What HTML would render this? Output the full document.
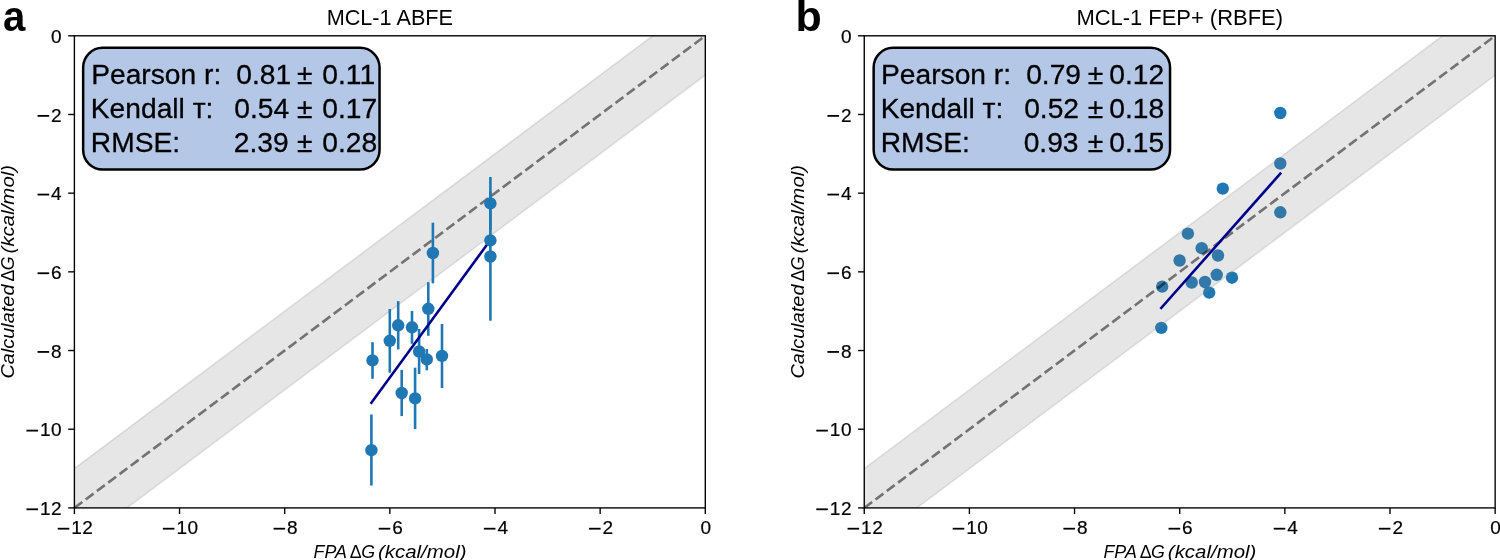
<!DOCTYPE html>
<html><head><meta charset="utf-8"><title>MCL-1 ABFE vs FEP+</title>
<style>
html,body{margin:0;padding:0;background:#fff;}
body{width:1500px;height:560px;overflow:hidden;}
svg{display:block;will-change:transform;transform:translateZ(0);font-family:"Liberation Sans",sans-serif;}
text{fill:#000;}
</style></head><body>
<svg width="1500" height="560" viewBox="0 0 1500 560">
<rect width="1500" height="560" fill="#fff"/>
<g>
<clipPath id="c0"><rect x="74.4" y="35.8" width="630.9" height="472.09999999999997"/></clipPath>
<g clip-path="url(#c0)">
<path d="M21.82500000000001,507.8999999999999 L757.8749999999999,-42.883333333333326 L757.8749999999999,35.8 L21.82500000000001,586.5833333333333 Z" fill="#808080" fill-opacity="0.2" stroke="#808080" stroke-opacity="0.2" stroke-width="1.7"/>
<line x1="74.4" y1="507.8999999999999" x2="705.3" y2="35.8" stroke="#000" stroke-opacity="0.5" stroke-width="2.65" stroke-dasharray="9.83 4.25"/>
<line x1="371.4" y1="414.5" x2="371.4" y2="485.5" stroke="#1f77b4" stroke-width="2.6"/>
<line x1="372.5" y1="342.2" x2="372.5" y2="378.8" stroke="#1f77b4" stroke-width="2.6"/>
<line x1="389.8" y1="309.0" x2="389.8" y2="372.7" stroke="#1f77b4" stroke-width="2.6"/>
<line x1="398.2" y1="301.2" x2="398.2" y2="349.4" stroke="#1f77b4" stroke-width="2.6"/>
<line x1="401.7" y1="369.9" x2="401.7" y2="416.1" stroke="#1f77b4" stroke-width="2.6"/>
<line x1="412.0" y1="310.9" x2="412.0" y2="343.8" stroke="#1f77b4" stroke-width="2.6"/>
<line x1="415.1" y1="367.7" x2="415.1" y2="429.1" stroke="#1f77b4" stroke-width="2.6"/>
<line x1="419.1" y1="329.0" x2="419.1" y2="374.0" stroke="#1f77b4" stroke-width="2.6"/>
<line x1="426.8" y1="349.0" x2="426.8" y2="370.3" stroke="#1f77b4" stroke-width="2.6"/>
<line x1="428.3" y1="282.2" x2="428.3" y2="335.8" stroke="#1f77b4" stroke-width="2.6"/>
<line x1="432.9" y1="222.7" x2="432.9" y2="283.3" stroke="#1f77b4" stroke-width="2.6"/>
<line x1="442.0" y1="324.0" x2="442.0" y2="388.0" stroke="#1f77b4" stroke-width="2.6"/>
<line x1="490.4" y1="176.9" x2="490.4" y2="229.9" stroke="#1f77b4" stroke-width="2.6"/>
<line x1="490.4" y1="236.0" x2="490.4" y2="244.0" stroke="#1f77b4" stroke-width="2.6"/>
<line x1="490.4" y1="191.7" x2="490.4" y2="320.7" stroke="#1f77b4" stroke-width="2.6"/>
<line x1="371.4" y1="402.7" x2="490.4" y2="240.0" stroke="#00008b" stroke-width="2.6" stroke-linecap="square"/>
<circle cx="371.4" cy="450.2" r="6.2" fill="#1f77b4"/>
<circle cx="372.5" cy="360.4" r="6.2" fill="#1f77b4"/>
<circle cx="389.8" cy="340.8" r="6.2" fill="#1f77b4"/>
<circle cx="398.2" cy="325.3" r="6.2" fill="#1f77b4"/>
<circle cx="401.7" cy="393.0" r="6.2" fill="#1f77b4"/>
<circle cx="412.0" cy="327.3" r="6.2" fill="#1f77b4"/>
<circle cx="415.1" cy="398.4" r="6.2" fill="#1f77b4"/>
<circle cx="419.1" cy="351.5" r="6.2" fill="#1f77b4"/>
<circle cx="426.8" cy="359.4" r="6.2" fill="#1f77b4"/>
<circle cx="428.3" cy="308.8" r="6.2" fill="#1f77b4"/>
<circle cx="432.9" cy="253.0" r="6.2" fill="#1f77b4"/>
<circle cx="442.0" cy="355.9" r="6.2" fill="#1f77b4"/>
<circle cx="490.4" cy="203.4" r="6.2" fill="#1f77b4"/>
<circle cx="490.4" cy="240.4" r="6.2" fill="#1f77b4"/>
<circle cx="490.4" cy="256.5" r="6.2" fill="#1f77b4"/>
</g>
<rect x="74.4" y="35.8" width="630.9" height="472.09999999999997" fill="none" stroke="#000" stroke-width="1.37"/>
<line x1="74.4" y1="507.9" x2="74.4" y2="514.1" stroke="#000" stroke-width="1.37"/>
<line x1="68.2" y1="507.8999999999999" x2="74.4" y2="507.8999999999999" stroke="#000" stroke-width="1.37"/>
<rect x="57.70" y="527.80" width="11.6" height="1.8" fill="#000"/><text x="76.54" y="534.4" font-size="19.0" text-anchor="middle" stroke="#000" stroke-width="0.2">1</text><text x="87.64" y="534.4" font-size="19.0" text-anchor="middle" stroke="#000" stroke-width="0.2">2</text>
<rect x="26.46" y="508.40" width="11.6" height="1.8" fill="#000"/><text x="45.30" y="514.9999999999999" font-size="19.0" text-anchor="middle" stroke="#000" stroke-width="0.2">1</text><text x="56.40" y="514.9999999999999" font-size="19.0" text-anchor="middle" stroke="#000" stroke-width="0.2">2</text>
<line x1="179.55" y1="507.9" x2="179.55" y2="514.1" stroke="#000" stroke-width="1.37"/>
<line x1="68.2" y1="429.21666666666664" x2="74.4" y2="429.21666666666664" stroke="#000" stroke-width="1.37"/>
<rect x="162.85" y="527.80" width="11.6" height="1.8" fill="#000"/><text x="181.69" y="534.4" font-size="19.0" text-anchor="middle" stroke="#000" stroke-width="0.2">1</text><text x="192.79" y="534.4" font-size="19.0" text-anchor="middle" stroke="#000" stroke-width="0.2">0</text>
<rect x="26.46" y="429.72" width="11.6" height="1.8" fill="#000"/><text x="45.30" y="436.31666666666666" font-size="19.0" text-anchor="middle" stroke="#000" stroke-width="0.2">1</text><text x="56.40" y="436.31666666666666" font-size="19.0" text-anchor="middle" stroke="#000" stroke-width="0.2">0</text>
<line x1="284.7" y1="507.9" x2="284.7" y2="514.1" stroke="#000" stroke-width="1.37"/>
<line x1="68.2" y1="350.5333333333333" x2="74.4" y2="350.5333333333333" stroke="#000" stroke-width="1.37"/>
<rect x="273.55" y="527.80" width="11.6" height="1.8" fill="#000"/><text x="292.39" y="534.4" font-size="19.0" text-anchor="middle" stroke="#000" stroke-width="0.2">8</text>
<rect x="37.56" y="351.03" width="11.6" height="1.8" fill="#000"/><text x="56.40" y="357.6333333333333" font-size="19.0" text-anchor="middle" stroke="#000" stroke-width="0.2">8</text>
<line x1="389.85" y1="507.9" x2="389.85" y2="514.1" stroke="#000" stroke-width="1.37"/>
<line x1="68.2" y1="271.84999999999997" x2="74.4" y2="271.84999999999997" stroke="#000" stroke-width="1.37"/>
<rect x="378.70" y="527.80" width="11.6" height="1.8" fill="#000"/><text x="397.54" y="534.4" font-size="19.0" text-anchor="middle" stroke="#000" stroke-width="0.2">6</text>
<rect x="37.56" y="272.35" width="11.6" height="1.8" fill="#000"/><text x="56.40" y="278.95" font-size="19.0" text-anchor="middle" stroke="#000" stroke-width="0.2">6</text>
<line x1="495.0" y1="507.9" x2="495.0" y2="514.1" stroke="#000" stroke-width="1.37"/>
<line x1="68.2" y1="193.16666666666663" x2="74.4" y2="193.16666666666663" stroke="#000" stroke-width="1.37"/>
<rect x="483.85" y="527.80" width="11.6" height="1.8" fill="#000"/><text x="502.69" y="534.4" font-size="19.0" text-anchor="middle" stroke="#000" stroke-width="0.2">4</text>
<rect x="37.56" y="193.67" width="11.6" height="1.8" fill="#000"/><text x="56.40" y="200.26666666666662" font-size="19.0" text-anchor="middle" stroke="#000" stroke-width="0.2">4</text>
<line x1="600.15" y1="507.9" x2="600.15" y2="514.1" stroke="#000" stroke-width="1.37"/>
<line x1="68.2" y1="114.48333333333332" x2="74.4" y2="114.48333333333332" stroke="#000" stroke-width="1.37"/>
<rect x="589.00" y="527.80" width="11.6" height="1.8" fill="#000"/><text x="607.84" y="534.4" font-size="19.0" text-anchor="middle" stroke="#000" stroke-width="0.2">2</text>
<rect x="37.56" y="114.98" width="11.6" height="1.8" fill="#000"/><text x="56.40" y="121.58333333333331" font-size="19.0" text-anchor="middle" stroke="#000" stroke-width="0.2">2</text>
<line x1="705.3" y1="507.9" x2="705.3" y2="514.1" stroke="#000" stroke-width="1.37"/>
<line x1="68.2" y1="35.8" x2="74.4" y2="35.8" stroke="#000" stroke-width="1.37"/>
<text x="705.70" y="534.4" font-size="19.0" text-anchor="middle" stroke="#000" stroke-width="0.2">0</text>
<text x="56.40" y="42.9" font-size="19.0" text-anchor="middle" stroke="#000" stroke-width="0.2">0</text>
<text x="326.65" y="25.3" font-size="21.3" text-anchor="start" font-weight="normal" textLength="126.4" lengthAdjust="spacingAndGlyphs">MCL-1 ABFE</text>
<g transform="translate(314.5,558.4)"><text x="-0.9" y="0" font-size="17.8" text-anchor="start" font-weight="normal" font-style="italic" textLength="33.4" lengthAdjust="spacingAndGlyphs">FPA</text><text x="35.300000000000004" y="0" font-size="17.8" text-anchor="start" font-weight="normal">Δ</text><text x="46.7" y="0" font-size="17.8" text-anchor="start" font-weight="normal" font-style="italic">G</text><text x="63.50000000000001" y="0" font-size="17.8" text-anchor="start" font-weight="normal" font-style="italic" textLength="88.5" lengthAdjust="spacingAndGlyphs">(kcal/mol)</text></g>
<g transform="translate(14.0,377.6) rotate(-90)"><text x="-0.9" y="0" font-size="17.8" text-anchor="start" font-weight="normal" font-style="italic" textLength="94.0" lengthAdjust="spacingAndGlyphs">Calculated</text><text x="96.0" y="0" font-size="17.8" text-anchor="start" font-weight="normal">Δ</text><text x="107.39999999999999" y="0" font-size="17.8" text-anchor="start" font-weight="normal" font-style="italic">G</text><text x="124.19999999999999" y="0" font-size="17.8" text-anchor="start" font-weight="normal" font-style="italic" textLength="88.5" lengthAdjust="spacingAndGlyphs">(kcal/mol)</text></g>
<rect x="83.15" y="47.8" width="296.4" height="121.7" rx="19.5" ry="19.5" fill="#b4c7e7" stroke="#000" stroke-width="2.5"/>
<text x="91.2" y="83.8" font-size="28.2" text-anchor="start" font-weight="normal" stroke="#000" stroke-width="0.3">Pearson r:</text>
<text x="236.3" y="83.8" font-size="28.2" text-anchor="start" font-weight="normal" stroke="#000" stroke-width="0.3">0.81</text>
<text x="297.1" y="83.8" font-size="28.2" text-anchor="start" font-weight="normal" stroke="#000" stroke-width="0.3">±</text>
<text x="322.3" y="83.8" font-size="28.2" text-anchor="start" font-weight="normal" stroke="#000" stroke-width="0.3">0.11</text>
<text x="90.8" y="117.7" font-size="28.2" text-anchor="start" font-weight="normal" stroke="#000" stroke-width="0.3">Kendall т:</text>
<text x="234.3" y="117.7" font-size="28.2" text-anchor="start" font-weight="normal" stroke="#000" stroke-width="0.3">0.54</text>
<text x="297.1" y="117.7" font-size="28.2" text-anchor="start" font-weight="normal" stroke="#000" stroke-width="0.3">±</text>
<text x="322.3" y="117.7" font-size="28.2" text-anchor="start" font-weight="normal" stroke="#000" stroke-width="0.3">0.17</text>
<text x="90.8" y="152.0" font-size="28.2" text-anchor="start" font-weight="normal" stroke="#000" stroke-width="0.3">RMSE:</text>
<text x="233.8" y="152.0" font-size="28.2" text-anchor="start" font-weight="normal" stroke="#000" stroke-width="0.3">2.39</text>
<text x="297.1" y="152.0" font-size="28.2" text-anchor="start" font-weight="normal" stroke="#000" stroke-width="0.3">±</text>
<text x="322.3" y="152.0" font-size="28.2" text-anchor="start" font-weight="normal" stroke="#000" stroke-width="0.3">0.28</text>
</g>
<g>
<clipPath id="c789"><rect x="864.25" y="35.8" width="630.9000000000001" height="472.09999999999997"/></clipPath>
<g clip-path="url(#c789)">
<circle cx="1161.3" cy="327.9" r="6.2" fill="#1f77b4"/>
<circle cx="1162.2" cy="286.6" r="6.2" fill="#1f77b4"/>
<circle cx="1179.6" cy="260.5" r="6.2" fill="#1f77b4"/>
<circle cx="1187.9" cy="233.6" r="6.2" fill="#1f77b4"/>
<circle cx="1191.7" cy="282.5" r="6.2" fill="#1f77b4"/>
<circle cx="1201.7" cy="248.2" r="6.2" fill="#1f77b4"/>
<circle cx="1205.0" cy="282.0" r="6.2" fill="#1f77b4"/>
<circle cx="1209.2" cy="292.6" r="6.2" fill="#1f77b4"/>
<circle cx="1216.7" cy="274.8" r="6.2" fill="#1f77b4"/>
<circle cx="1218.0" cy="255.5" r="6.2" fill="#1f77b4"/>
<circle cx="1222.8" cy="188.6" r="6.2" fill="#1f77b4"/>
<circle cx="1232.0" cy="277.7" r="6.2" fill="#1f77b4"/>
<circle cx="1280.3" cy="113.0" r="6.2" fill="#1f77b4"/>
<circle cx="1280.3" cy="163.5" r="6.2" fill="#1f77b4"/>
<circle cx="1280.3" cy="212.3" r="6.2" fill="#1f77b4"/>
<path d="M811.675,507.8999999999999 L1547.725,-42.883333333333326 L1547.725,35.8 L811.675,586.5833333333333 Z" fill="#808080" fill-opacity="0.2" stroke="#808080" stroke-opacity="0.2" stroke-width="1.7"/>
<line x1="864.25" y1="507.8999999999999" x2="1495.15" y2="35.8" stroke="#000" stroke-opacity="0.5" stroke-width="2.65" stroke-dasharray="9.83 4.25"/>
<line x1="1161.2" y1="308.0" x2="1280.3" y2="173.6" stroke="#00008b" stroke-width="2.6" stroke-linecap="square"/>
</g>
<rect x="864.25" y="35.8" width="630.9000000000001" height="472.09999999999997" fill="none" stroke="#000" stroke-width="1.37"/>
<line x1="864.25" y1="507.9" x2="864.25" y2="514.1" stroke="#000" stroke-width="1.37"/>
<line x1="858.05" y1="507.8999999999999" x2="864.25" y2="507.8999999999999" stroke="#000" stroke-width="1.37"/>
<rect x="847.55" y="527.80" width="11.6" height="1.8" fill="#000"/><text x="866.39" y="534.4" font-size="19.0" text-anchor="middle" stroke="#000" stroke-width="0.2">1</text><text x="877.49" y="534.4" font-size="19.0" text-anchor="middle" stroke="#000" stroke-width="0.2">2</text>
<rect x="816.31" y="508.40" width="11.6" height="1.8" fill="#000"/><text x="835.15" y="514.9999999999999" font-size="19.0" text-anchor="middle" stroke="#000" stroke-width="0.2">1</text><text x="846.25" y="514.9999999999999" font-size="19.0" text-anchor="middle" stroke="#000" stroke-width="0.2">2</text>
<line x1="969.4" y1="507.9" x2="969.4" y2="514.1" stroke="#000" stroke-width="1.37"/>
<line x1="858.05" y1="429.21666666666664" x2="864.25" y2="429.21666666666664" stroke="#000" stroke-width="1.37"/>
<rect x="952.70" y="527.80" width="11.6" height="1.8" fill="#000"/><text x="971.54" y="534.4" font-size="19.0" text-anchor="middle" stroke="#000" stroke-width="0.2">1</text><text x="982.64" y="534.4" font-size="19.0" text-anchor="middle" stroke="#000" stroke-width="0.2">0</text>
<rect x="816.31" y="429.72" width="11.6" height="1.8" fill="#000"/><text x="835.15" y="436.31666666666666" font-size="19.0" text-anchor="middle" stroke="#000" stroke-width="0.2">1</text><text x="846.25" y="436.31666666666666" font-size="19.0" text-anchor="middle" stroke="#000" stroke-width="0.2">0</text>
<line x1="1074.55" y1="507.9" x2="1074.55" y2="514.1" stroke="#000" stroke-width="1.37"/>
<line x1="858.05" y1="350.5333333333333" x2="864.25" y2="350.5333333333333" stroke="#000" stroke-width="1.37"/>
<rect x="1063.40" y="527.80" width="11.6" height="1.8" fill="#000"/><text x="1082.24" y="534.4" font-size="19.0" text-anchor="middle" stroke="#000" stroke-width="0.2">8</text>
<rect x="827.41" y="351.03" width="11.6" height="1.8" fill="#000"/><text x="846.25" y="357.6333333333333" font-size="19.0" text-anchor="middle" stroke="#000" stroke-width="0.2">8</text>
<line x1="1179.7" y1="507.9" x2="1179.7" y2="514.1" stroke="#000" stroke-width="1.37"/>
<line x1="858.05" y1="271.84999999999997" x2="864.25" y2="271.84999999999997" stroke="#000" stroke-width="1.37"/>
<rect x="1168.55" y="527.80" width="11.6" height="1.8" fill="#000"/><text x="1187.39" y="534.4" font-size="19.0" text-anchor="middle" stroke="#000" stroke-width="0.2">6</text>
<rect x="827.41" y="272.35" width="11.6" height="1.8" fill="#000"/><text x="846.25" y="278.95" font-size="19.0" text-anchor="middle" stroke="#000" stroke-width="0.2">6</text>
<line x1="1284.85" y1="507.9" x2="1284.85" y2="514.1" stroke="#000" stroke-width="1.37"/>
<line x1="858.05" y1="193.16666666666663" x2="864.25" y2="193.16666666666663" stroke="#000" stroke-width="1.37"/>
<rect x="1273.70" y="527.80" width="11.6" height="1.8" fill="#000"/><text x="1292.54" y="534.4" font-size="19.0" text-anchor="middle" stroke="#000" stroke-width="0.2">4</text>
<rect x="827.41" y="193.67" width="11.6" height="1.8" fill="#000"/><text x="846.25" y="200.26666666666662" font-size="19.0" text-anchor="middle" stroke="#000" stroke-width="0.2">4</text>
<line x1="1390.0" y1="507.9" x2="1390.0" y2="514.1" stroke="#000" stroke-width="1.37"/>
<line x1="858.05" y1="114.48333333333332" x2="864.25" y2="114.48333333333332" stroke="#000" stroke-width="1.37"/>
<rect x="1378.85" y="527.80" width="11.6" height="1.8" fill="#000"/><text x="1397.69" y="534.4" font-size="19.0" text-anchor="middle" stroke="#000" stroke-width="0.2">2</text>
<rect x="827.41" y="114.98" width="11.6" height="1.8" fill="#000"/><text x="846.25" y="121.58333333333331" font-size="19.0" text-anchor="middle" stroke="#000" stroke-width="0.2">2</text>
<line x1="1495.15" y1="507.9" x2="1495.15" y2="514.1" stroke="#000" stroke-width="1.37"/>
<line x1="858.05" y1="35.8" x2="864.25" y2="35.8" stroke="#000" stroke-width="1.37"/>
<text x="1495.55" y="534.4" font-size="19.0" text-anchor="middle" stroke="#000" stroke-width="0.2">0</text>
<text x="846.25" y="42.9" font-size="19.0" text-anchor="middle" stroke="#000" stroke-width="0.2">0</text>
<text x="1076.4" y="25.3" font-size="21.3" text-anchor="start" font-weight="normal" textLength="206.6" lengthAdjust="spacingAndGlyphs">MCL-1 FEP+ (RBFE)</text>
<g transform="translate(1104.35,558.4)"><text x="-0.9" y="0" font-size="17.8" text-anchor="start" font-weight="normal" font-style="italic" textLength="33.4" lengthAdjust="spacingAndGlyphs">FPA</text><text x="35.300000000000004" y="0" font-size="17.8" text-anchor="start" font-weight="normal">Δ</text><text x="46.7" y="0" font-size="17.8" text-anchor="start" font-weight="normal" font-style="italic">G</text><text x="63.50000000000001" y="0" font-size="17.8" text-anchor="start" font-weight="normal" font-style="italic" textLength="88.5" lengthAdjust="spacingAndGlyphs">(kcal/mol)</text></g>
<g transform="translate(803.85,377.6) rotate(-90)"><text x="-0.9" y="0" font-size="17.8" text-anchor="start" font-weight="normal" font-style="italic" textLength="94.0" lengthAdjust="spacingAndGlyphs">Calculated</text><text x="96.0" y="0" font-size="17.8" text-anchor="start" font-weight="normal">Δ</text><text x="107.39999999999999" y="0" font-size="17.8" text-anchor="start" font-weight="normal" font-style="italic">G</text><text x="124.19999999999999" y="0" font-size="17.8" text-anchor="start" font-weight="normal" font-style="italic" textLength="88.5" lengthAdjust="spacingAndGlyphs">(kcal/mol)</text></g>
<rect x="873.65" y="47.8" width="296.4000000000002" height="121.7" rx="19.5" ry="19.5" fill="#b4c7e7" stroke="#000" stroke-width="2.5"/>
<text x="881.0500000000001" y="83.8" font-size="28.2" text-anchor="start" font-weight="normal" stroke="#000" stroke-width="0.3">Pearson r:</text>
<text x="1026.15" y="83.8" font-size="28.2" text-anchor="start" font-weight="normal" stroke="#000" stroke-width="0.3">0.79</text>
<text x="1087.75" y="83.8" font-size="28.2" text-anchor="start" font-weight="normal" stroke="#000" stroke-width="0.3">±</text>
<text x="1109.35" y="83.8" font-size="28.2" text-anchor="start" font-weight="normal" stroke="#000" stroke-width="0.3">0.12</text>
<text x="880.65" y="117.7" font-size="28.2" text-anchor="start" font-weight="normal" stroke="#000" stroke-width="0.3">Kendall т:</text>
<text x="1024.15" y="117.7" font-size="28.2" text-anchor="start" font-weight="normal" stroke="#000" stroke-width="0.3">0.52</text>
<text x="1087.75" y="117.7" font-size="28.2" text-anchor="start" font-weight="normal" stroke="#000" stroke-width="0.3">±</text>
<text x="1109.35" y="117.7" font-size="28.2" text-anchor="start" font-weight="normal" stroke="#000" stroke-width="0.3">0.18</text>
<text x="880.65" y="152.0" font-size="28.2" text-anchor="start" font-weight="normal" stroke="#000" stroke-width="0.3">RMSE:</text>
<text x="1023.6500000000001" y="152.0" font-size="28.2" text-anchor="start" font-weight="normal" stroke="#000" stroke-width="0.3">0.93</text>
<text x="1087.75" y="152.0" font-size="28.2" text-anchor="start" font-weight="normal" stroke="#000" stroke-width="0.3">±</text>
<text x="1109.35" y="152.0" font-size="28.2" text-anchor="start" font-weight="normal" stroke="#000" stroke-width="0.3">0.15</text>
</g>
<text x="3.0" y="30.9" font-size="43" font-weight="bold" textLength="22.3" lengthAdjust="spacingAndGlyphs">a</text>
<text x="795.5" y="30.6" font-size="43" font-weight="bold">b</text>
</svg>
</body></html>
